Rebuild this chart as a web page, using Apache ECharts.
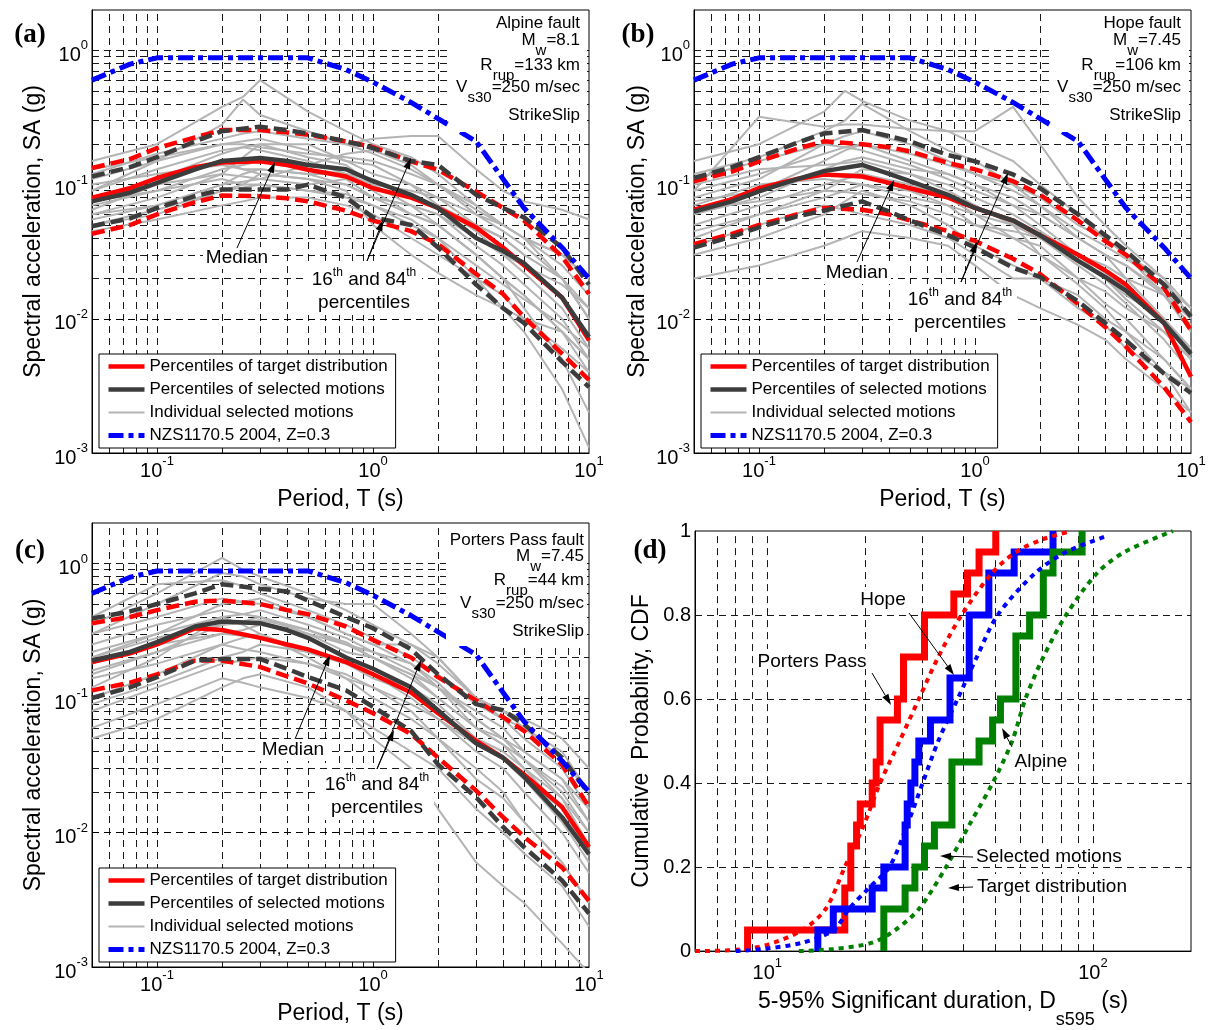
<!DOCTYPE html>
<html><head><meta charset="utf-8">
<script src="https://cdn.jsdelivr.net/npm/echarts@6.0.0/dist/echarts.min.js"></script>
<style>html,body{margin:0;padding:0;background:#fff}#c{width:1209px;height:1030px}</style>
</head><body><div id="c"></div>
<script>
// ---------------- DATA ----------------
const T_PCT = [0.05, 0.075, 0.1, 0.15, 0.2, 0.3, 0.4, 0.5, 0.75, 1, 1.5, 2, 3, 4, 5, 7.5, 10];
const T_IND = [0.05, 0.1, 0.2, 0.25, 0.3, 0.5, 0.75, 1, 1.5, 2, 3, 4, 5, 7.5, 10];
const T_NZS = [0.05, 0.075, 0.1, 0.2, 0.3, 0.5, 0.75, 1, 1.5, 2, 3, 4, 5, 7.5, 10];
const SA_NZS = [0.6, 0.79, 0.88, 0.88, 0.88, 0.88, 0.72, 0.58, 0.41, 0.31, 0.21, 0.11, 0.067, 0.034, 0.02];

// Panel (a) Alpine fault
const A_TGT_MED = [0.08, 0.094, 0.112, 0.135, 0.146, 0.149, 0.14, 0.129, 0.115, 0.094, 0.08, 0.067, 0.048, 0.034, 0.025, 0.0144, 0.0069];
const A_SEL_MED = [0.075, 0.087, 0.103, 0.13, 0.15, 0.158, 0.15, 0.14, 0.13, 0.106, 0.084, 0.067, 0.04, 0.032, 0.026, 0.0144, 0.0073];
const A_TGT_84 = [0.133, 0.155, 0.187, 0.225, 0.255, 0.255, 0.245, 0.235, 0.21, 0.19, 0.149, 0.129, 0.089, 0.067, 0.054, 0.029, 0.0153];
const A_SEL_84 = [0.115, 0.135, 0.16, 0.21, 0.25, 0.27, 0.255, 0.24, 0.21, 0.187, 0.15, 0.14, 0.084, 0.067, 0.057, 0.034, 0.018];
const A_TGT_16 = [0.043, 0.05, 0.06, 0.074, 0.083, 0.082, 0.079, 0.075, 0.064, 0.054, 0.045, 0.036, 0.0216, 0.0153, 0.0103, 0.0055, 0.0035];
const A_SEL_16 = [0.049, 0.056, 0.067, 0.082, 0.092, 0.092, 0.092, 0.1, 0.08, 0.057, 0.05, 0.034, 0.018, 0.012, 0.0093, 0.0048, 0.0031];
const A_IND = [
 [0.15, 0.2, 0.38, 0.45, 0.6, 0.35, 0.25, 0.2, 0.16, 0.12, 0.07, 0.05, 0.04, 0.02, 0.01],
 [0.09, 0.15, 0.28, 0.43, 0.33, 0.25, 0.2, 0.17, 0.13, 0.1, 0.06, 0.045, 0.035, 0.02, 0.01],
 [0.12, 0.17, 0.22, 0.24, 0.25, 0.22, 0.2, 0.22, 0.23, 0.23, 0.13, 0.09, 0.075, 0.065, 0.055],
 [0.06, 0.08, 0.12, 0.16, 0.2, 0.2, 0.15, 0.12, 0.1, 0.07, 0.05, 0.04, 0.03, 0.02, 0.012],
 [0.05, 0.06, 0.09, 0.1, 0.12, 0.11, 0.1, 0.08, 0.07, 0.05, 0.03, 0.02, 0.012, 0.005, 0.002],
 [0.07, 0.09, 0.11, 0.1, 0.1, 0.09, 0.08, 0.07, 0.05, 0.04, 0.02, 0.012, 0.008, 0.003, 0.0011],
 [0.08, 0.11, 0.17, 0.19, 0.2, 0.16, 0.14, 0.1, 0.09, 0.08, 0.05, 0.04, 0.03, 0.02, 0.01],
 [0.1, 0.12, 0.14, 0.13, 0.13, 0.12, 0.12, 0.1, 0.07, 0.06, 0.04, 0.03, 0.025, 0.018, 0.012],
 [0.045, 0.055, 0.07, 0.075, 0.08, 0.08, 0.07, 0.06, 0.04, 0.03, 0.02, 0.015, 0.01, 0.006, 0.004],
 [0.065, 0.1, 0.15, 0.13, 0.12, 0.11, 0.09, 0.05, 0.03, 0.022, 0.015, 0.012, 0.01, 0.008, 0.005],
 [0.11, 0.15, 0.2, 0.21, 0.22, 0.18, 0.15, 0.14, 0.1, 0.08, 0.06, 0.05, 0.04, 0.03, 0.02],
 [0.075, 0.09, 0.13, 0.14, 0.15, 0.13, 0.12, 0.11, 0.08, 0.07, 0.045, 0.03, 0.022, 0.012, 0.006],
 [0.055, 0.07, 0.1, 0.12, 0.13, 0.12, 0.1, 0.08, 0.07, 0.06, 0.035, 0.025, 0.018, 0.01, 0.005],
 [0.09, 0.13, 0.18, 0.19, 0.18, 0.15, 0.12, 0.09, 0.06, 0.05, 0.03, 0.02, 0.015, 0.008, 0.004],
 [0.06, 0.07, 0.1, 0.105, 0.11, 0.14, 0.17, 0.18, 0.14, 0.1, 0.07, 0.05, 0.04, 0.025, 0.015],
 [0.08, 0.1, 0.12, 0.115, 0.11, 0.1, 0.11, 0.08, 0.06, 0.05, 0.03, 0.02, 0.015, 0.008, 0.005],
 [0.05, 0.065, 0.09, 0.095, 0.1, 0.09, 0.085, 0.07, 0.055, 0.04, 0.025, 0.018, 0.014, 0.009, 0.006],
 [0.13, 0.16, 0.2, 0.2, 0.19, 0.17, 0.16, 0.15, 0.12, 0.1, 0.065, 0.05, 0.04, 0.03, 0.02]
];

// Panel (b) Hope fault
const B_TGT_MED = [0.065, 0.078, 0.094, 0.11, 0.119, 0.115, 0.103, 0.094, 0.08, 0.067, 0.054, 0.042, 0.03, 0.023, 0.018, 0.0093, 0.0037];
const B_SEL_MED = [0.063, 0.075, 0.089, 0.11, 0.126, 0.14, 0.12, 0.106, 0.084, 0.067, 0.054, 0.042, 0.027, 0.0205, 0.0162, 0.0093, 0.0055];
const B_TGT_84 = [0.106, 0.125, 0.149, 0.185, 0.21, 0.2, 0.19, 0.177, 0.145, 0.13, 0.106, 0.084, 0.054, 0.038, 0.03, 0.017, 0.0082];
const B_SEL_84 = [0.112, 0.135, 0.16, 0.205, 0.24, 0.255, 0.23, 0.21, 0.166, 0.149, 0.119, 0.094, 0.06, 0.042, 0.032, 0.018, 0.0104];
const B_TGT_16 = [0.036, 0.043, 0.05, 0.06, 0.067, 0.065, 0.06, 0.054, 0.045, 0.038, 0.028, 0.0216, 0.0129, 0.0087, 0.0062, 0.0031, 0.0017];
const B_SEL_16 = [0.034, 0.041, 0.048, 0.058, 0.064, 0.075, 0.063, 0.054, 0.042, 0.034, 0.024, 0.0205, 0.0135, 0.0093, 0.0069, 0.0039, 0.0028];
const B_IND = [
 [0.15, 0.2, 0.35, 0.5, 0.42, 0.3, 0.25, 0.2, 0.15, 0.1, 0.06, 0.04, 0.03, 0.015, 0.008],
 [0.09, 0.32, 0.27, 0.28, 0.28, 0.26, 0.25, 0.25, 0.38, 0.2, 0.08, 0.05, 0.035, 0.02, 0.01],
 [0.12, 0.16, 0.25, 0.3, 0.4, 0.25, 0.18, 0.15, 0.1, 0.07, 0.04, 0.03, 0.02, 0.01, 0.005],
 [0.06, 0.09, 0.15, 0.18, 0.2, 0.15, 0.12, 0.1, 0.07, 0.05, 0.03, 0.022, 0.017, 0.01, 0.006],
 [0.045, 0.06, 0.08, 0.09, 0.1, 0.09, 0.07, 0.05, 0.04, 0.03, 0.02, 0.013, 0.01, 0.005, 0.003],
 [0.02, 0.025, 0.035, 0.04, 0.045, 0.04, 0.035, 0.025, 0.015, 0.012, 0.009, 0.007, 0.005, 0.003, 0.002],
 [0.03, 0.04, 0.06, 0.075, 0.09, 0.07, 0.05, 0.035, 0.025, 0.02, 0.012, 0.009, 0.006, 0.004, 0.003],
 [0.08, 0.11, 0.2, 0.19, 0.18, 0.14, 0.11, 0.09, 0.07, 0.06, 0.04, 0.03, 0.025, 0.015, 0.009],
 [0.1, 0.13, 0.14, 0.145, 0.15, 0.12, 0.1, 0.08, 0.06, 0.045, 0.03, 0.025, 0.02, 0.015, 0.01],
 [0.05, 0.07, 0.1, 0.11, 0.12, 0.1, 0.08, 0.06, 0.05, 0.04, 0.025, 0.018, 0.013, 0.007, 0.004],
 [0.07, 0.1, 0.11, 0.105, 0.1, 0.08, 0.07, 0.06, 0.04, 0.035, 0.02, 0.016, 0.012, 0.008, 0.005],
 [0.035, 0.05, 0.07, 0.065, 0.06, 0.05, 0.04, 0.03, 0.02, 0.02, 0.015, 0.01, 0.008, 0.005, 0.003],
 [0.06, 0.08, 0.13, 0.15, 0.16, 0.13, 0.12, 0.1, 0.08, 0.06, 0.04, 0.03, 0.025, 0.016, 0.01],
 [0.11, 0.15, 0.2, 0.23, 0.25, 0.2, 0.15, 0.12, 0.1, 0.08, 0.05, 0.04, 0.03, 0.02, 0.012],
 [0.075, 0.09, 0.12, 0.12, 0.12, 0.09, 0.08, 0.07, 0.05, 0.04, 0.03, 0.02, 0.015, 0.01, 0.006],
 [0.04, 0.06, 0.09, 0.11, 0.13, 0.12, 0.09, 0.07, 0.05, 0.03, 0.018, 0.012, 0.008, 0.004, 0.002],
 [0.065, 0.075, 0.09, 0.088, 0.085, 0.075, 0.06, 0.05, 0.045, 0.04, 0.028, 0.02, 0.014, 0.008, 0.005],
 [0.09, 0.12, 0.17, 0.19, 0.2, 0.17, 0.14, 0.12, 0.09, 0.07, 0.045, 0.035, 0.028, 0.018, 0.012]
];

// Panel (c) Porters Pass fault
const C_TGT_MED = [0.185, 0.215, 0.25, 0.33, 0.32, 0.28, 0.25, 0.23, 0.185, 0.15, 0.11, 0.077, 0.048, 0.036, 0.027, 0.0155, 0.0078];
const C_SEL_MED = [0.19, 0.22, 0.26, 0.34, 0.37, 0.36, 0.32, 0.28, 0.2, 0.165, 0.12, 0.081, 0.046, 0.036, 0.026, 0.013, 0.0069];
const C_TGT_84 = [0.36, 0.4, 0.45, 0.52, 0.53, 0.5, 0.45, 0.42, 0.34, 0.27, 0.2, 0.143, 0.096, 0.072, 0.057, 0.032, 0.0155];
const C_SEL_84 = [0.39, 0.44, 0.5, 0.6, 0.7, 0.65, 0.62, 0.53, 0.4, 0.33, 0.23, 0.15, 0.09, 0.081, 0.064, 0.036, 0.0194];
const C_TGT_16 = [0.114, 0.13, 0.15, 0.19, 0.19, 0.17, 0.145, 0.128, 0.096, 0.077, 0.054, 0.036, 0.0205, 0.013, 0.0093, 0.0055, 0.0031];
const C_SEL_16 = [0.1, 0.12, 0.143, 0.19, 0.195, 0.195, 0.165, 0.143, 0.114, 0.086, 0.057, 0.032, 0.0183, 0.011, 0.0078, 0.0044, 0.0025];
const C_IND = [
 [0.35, 0.6, 1.1, 0.9, 0.8, 0.6, 0.45, 0.35, 0.25, 0.18, 0.1, 0.07, 0.05, 0.03, 0.015],
 [0.3, 0.5, 0.85, 0.8, 0.7, 0.55, 0.5, 0.5, 0.3, 0.2, 0.1, 0.08, 0.06, 0.04, 0.02],
 [0.4, 0.7, 0.75, 0.68, 0.6, 0.45, 0.35, 0.28, 0.2, 0.15, 0.09, 0.07, 0.06, 0.035, 0.02],
 [0.2, 0.3, 0.5, 0.52, 0.55, 0.4, 0.3, 0.25, 0.25, 0.2, 0.1, 0.08, 0.07, 0.05, 0.03],
 [0.15, 0.22, 0.35, 0.37, 0.4, 0.3, 0.22, 0.2, 0.15, 0.1, 0.06, 0.05, 0.04, 0.025, 0.015],
 [0.05, 0.07, 0.12, 0.14, 0.15, 0.12, 0.08, 0.05, 0.03, 0.015, 0.006, 0.004, 0.003, 0.0015, 0.0009],
 [0.06, 0.09, 0.14, 0.13, 0.12, 0.1, 0.08, 0.06, 0.04, 0.03, 0.015, 0.01, 0.007, 0.004, 0.002],
 [0.1, 0.15, 0.25, 0.28, 0.3, 0.2, 0.14, 0.12, 0.08, 0.05, 0.025, 0.018, 0.012, 0.006, 0.003],
 [0.25, 0.35, 0.45, 0.42, 0.4, 0.32, 0.25, 0.2, 0.15, 0.12, 0.08, 0.06, 0.04, 0.025, 0.012],
 [0.18, 0.25, 0.3, 0.32, 0.35, 0.3, 0.25, 0.22, 0.18, 0.12, 0.07, 0.05, 0.035, 0.018, 0.008],
 [0.12, 0.2, 0.4, 0.35, 0.3, 0.22, 0.18, 0.15, 0.1, 0.07, 0.04, 0.03, 0.02, 0.01, 0.005],
 [0.22, 0.3, 0.4, 0.42, 0.45, 0.35, 0.28, 0.22, 0.16, 0.12, 0.06, 0.045, 0.03, 0.015, 0.007],
 [0.08, 0.12, 0.18, 0.19, 0.2, 0.18, 0.15, 0.12, 0.09, 0.07, 0.045, 0.035, 0.025, 0.015, 0.008],
 [0.3, 0.4, 0.55, 0.52, 0.5, 0.4, 0.3, 0.25, 0.18, 0.13, 0.07, 0.05, 0.035, 0.02, 0.01],
 [0.16, 0.22, 0.3, 0.29, 0.28, 0.22, 0.18, 0.15, 0.12, 0.09, 0.05, 0.04, 0.03, 0.018, 0.01],
 [0.14, 0.18, 0.25, 0.23, 0.22, 0.18, 0.14, 0.1, 0.07, 0.05, 0.03, 0.02, 0.012, 0.006, 0.003],
 [0.2, 0.28, 0.35, 0.36, 0.38, 0.32, 0.26, 0.2, 0.14, 0.1, 0.06, 0.045, 0.035, 0.022, 0.012],
 [0.09, 0.13, 0.2, 0.22, 0.25, 0.22, 0.18, 0.14, 0.11, 0.08, 0.05, 0.035, 0.025, 0.012, 0.006]
];

// Panel (d) significant durations (s) of the 20 selected motions, sorted
const D_PORTERS = [8.7, 17.3, 17.3, 18.05, 18.05, 18.8, 19.3, 21.0, 21.6, 22.2, 22.2, 25.1, 26.2, 26.2, 30.4, 30.4, 37.4, 41.2, 44.7, 50.3];
const D_HOPE = [14.3, 15.95, 21.0, 22.8, 26.5, 26.5, 26.9, 27.6, 28.4, 29.2, 31.7, 36.4, 36.4, 41.7, 41.7, 41.7, 47.9, 47.9, 57.3, 75.4];
const D_ALPINE = [22.8, 22.8, 26.5, 28.4, 30.4, 32.6, 36.9, 36.9, 36.9, 44.7, 49.2, 52, 58, 58, 58, 63.9, 70.4, 70.4, 75.4, 92.6];
// target distributions (read points of the dotted CDFs)
const TGT_PORTERS_D = [6, 8, 10, 12.8, 15.1, 17.3, 19.8, 22.2, 25.5, 29.2, 33.5, 39.5, 49, 58, 70, 86];
const TGT_PORTERS_P = [0, 0.003, 0.015, 0.05, 0.1, 0.2, 0.3, 0.4, 0.5, 0.6, 0.7, 0.8, 0.9, 0.95, 0.98, 1.0];
const TGT_HOPE_D = [8, 9.7, 12.8, 16, 17.8, 20.5, 23.7, 26.9, 30, 33.5, 38.4, 44, 51, 66.5, 82.7, 112];
const TGT_HOPE_P = [0, 0.005, 0.02, 0.05, 0.1, 0.15, 0.2, 0.3, 0.4, 0.5, 0.6, 0.7, 0.8, 0.9, 0.95, 0.99];
const TGT_ALPINE_D = [12.5, 16, 21, 24.7, 29.2, 35.4, 41.7, 49.2, 56.5, 62, 70.4, 82.7, 103, 125, 176];
const TGT_ALPINE_P = [0, 0.005, 0.02, 0.05, 0.1, 0.2, 0.3, 0.4, 0.5, 0.6, 0.7, 0.8, 0.9, 0.95, 1.0];

// grid-line positions
const GRID_T = [0.06,0.07,0.08,0.09,0.1,0.2,0.3,0.4,0.5,0.6,0.7,0.8,0.9,1,2,3,4,5,6,7,8,9];
const GRID_SA = [0.002,0.003,0.004,0.005,0.006,0.007,0.008,0.009,0.01,0.02,0.03,0.04,0.05,0.06,0.07,0.08,0.09,0.1,0.2,0.3,0.4,0.5,0.6,0.7,0.8,0.9,1];
const GRID_D = [7,8,9,10,20,30,40,50,60,70,80,90,100];
const GRID_P = [0.2,0.4,0.6,0.8];

const LEG_NAMES = ['Percentiles of target distribution','Percentiles of selected motions','Individual selected motions','NZS1170.5 2004, Z=0.3'];

// ---------------- BUILD ----------------
const FONT = '"Liberation Sans", Arial, sans-serif';
const RED = '#ff0000', DARK = '#3c3c3c', GRAY = '#b4b4b4', BLUE = '#0000ff', GREEN = '#008000';
const zip = (xs, ys) => xs.map((x, i) => [x, ys[i]]);

function powLabel(v) {
  const l = Math.log10(v), e = Math.round(l);
  if (Math.abs(l - e) > 1e-6) return '';
  return '{b|10}{s|' + e + '}';
}
const powRich = {
  b: {fontSize: 20, fontFamily: FONT, color: '#000', lineHeight: 22, padding: [6, 0, 6, 0], verticalAlign: 'top'},
  s: {fontSize: 13, fontFamily: FONT, color: '#000', lineHeight: 14, verticalAlign: 'top'}
};
const nameStyle = {fontSize: 23, fontFamily: FONT, color: '#000'};

const grids = [
  {left: 92, top: 10, width: 497, height: 443},
  {left: 694, top: 10, width: 497, height: 443},
  {left: 92, top: 523, width: 497, height: 444},
  {left: 695, top: 531, width: 496, height: 432}
].map(g => Object.assign({show: true, borderColor: '#000', borderWidth: 1, backgroundColor: 'transparent', containLabel: false}, g));

const xAxes = [], yAxes = [], series = [];
const yNameGaps = [47, 45, 47];
const xNameGaps = [30, 30, 32];
for (let i = 0; i < 3; i++) {
  xAxes.push({type: 'log', logBase: 10, gridIndex: i, min: 0.05, max: 10,
    axisLine: {show: true, lineStyle: {color: '#000', width: 1}}, axisTick: {show: false}, splitLine: {show: false},
    axisLabel: {formatter: powLabel, rich: powRich, margin: 2},
    name: 'Period, T (s)', nameLocation: 'middle', nameGap: xNameGaps[i], nameTextStyle: nameStyle});
  yAxes.push({type: 'log', logBase: 10, gridIndex: i, min: 0.001, max: 2,
    axisLine: {show: true, lineStyle: {color: '#000', width: 1}}, axisTick: {show: false}, splitLine: {show: false},
    axisLabel: {formatter: powLabel, rich: powRich, margin: 4},
    name: 'Spectral acceleration, SA (g)', nameLocation: 'middle', nameGap: yNameGaps[i], nameTextStyle: nameStyle});
}
xAxes.push({type: 'log', logBase: 10, gridIndex: 3, min: 6, max: 200,
  axisLine: {show: true, lineStyle: {color: '#000', width: 1}}, axisTick: {show: false}, splitLine: {show: false},
  axisLabel: {formatter: powLabel, rich: powRich, margin: 6},
  name: '{n|5-95% Significant duration, D}{sub|s595}{n| (s)}', nameLocation: 'middle', nameGap: 34,
  nameTextStyle: {fontSize: 23, fontFamily: FONT, color: '#000', rich: {
    n: {fontSize: 23, fontFamily: FONT, color: '#000', lineHeight: 26, verticalAlign: 'top'},
    sub: {fontSize: 18, fontFamily: FONT, color: '#000', lineHeight: 18, padding: [21, 0, 0, 0], verticalAlign: 'top'}}}});
yAxes.push({type: 'value', gridIndex: 3, min: 0, max: 1, interval: 0.2,
  axisLine: {show: true, lineStyle: {color: '#000', width: 1}}, axisTick: {show: false}, splitLine: {show: false},
  axisLabel: {fontSize: 20, fontFamily: FONT, color: '#000', margin: 4,
    formatter: v => (v === 0 ? '0' : (Math.abs(v - 1) < 1e-9 ? '1' : v.toFixed(1)))},
  name: 'Cumulative  Probability, CDF', nameLocation: 'middle', nameGap: 42, nameTextStyle: nameStyle});

function gridLines(idx, xs, ys, dummy) {
  return {type: 'line', xAxisIndex: idx, yAxisIndex: idx, data: [dummy], symbol: 'none', silent: true,
    lineStyle: {opacity: 0}, z: 1, animation: false,
    markLine: {silent: true, symbol: ['none', 'none'], animation: false, label: {show: false},
      emphasis: {disabled: true},
      lineStyle: {color: '#000', width: 1, type: [7, 5], opacity: 0.9},
      data: xs.map(v => ({xAxis: v})).concat(ys.map(v => ({yAxis: v})))}};
}
function line(idx, name, xs, ys, lineStyle, z, extra) {
  return Object.assign({type: 'line', name, xAxisIndex: idx, yAxisIndex: idx, data: zip(xs, ys),
    symbol: 'none', showSymbol: false, silent: true, animation: false, z,
    itemStyle: {color: lineStyle.color},
    emphasis: {disabled: true}, lineStyle}, extra || {});
}

const panels = [
  {ind: A_IND, tm: A_TGT_MED, sm: A_SEL_MED, t84: A_TGT_84, s84: A_SEL_84, t16: A_TGT_16, s16: A_SEL_16},
  {ind: B_IND, tm: B_TGT_MED, sm: B_SEL_MED, t84: B_TGT_84, s84: B_SEL_84, t16: B_TGT_16, s16: B_SEL_16},
  {ind: C_IND, tm: C_TGT_MED, sm: C_SEL_MED, t84: C_TGT_84, s84: C_SEL_84, t16: C_TGT_16, s16: C_SEL_16}
];
panels.forEach((p, i) => {
  series.push(gridLines(i, GRID_T, GRID_SA, [1, 1]));
  p.ind.forEach(v => series.push(line(i, LEG_NAMES[2], T_IND, v, {color: GRAY, width: 2}, 10)));
  series.push(line(i, LEG_NAMES[0], T_PCT, p.tm, {color: RED, width: 4.5}, 11));
  series.push(line(i, 'tgt84', T_PCT, p.t84, {color: RED, width: 4.5, type: [13, 6]}, 11));
  series.push(line(i, 'tgt16', T_PCT, p.t16, {color: RED, width: 4.5, type: [13, 6]}, 11));
  series.push(line(i, LEG_NAMES[1], T_PCT, p.sm, {color: DARK, width: 4.5}, 12));
  series.push(line(i, 'sel84', T_PCT, p.s84, {color: DARK, width: 4.5, type: [13, 6]}, 12));
  series.push(line(i, 'sel16', T_PCT, p.s16, {color: DARK, width: 4.5, type: [13, 6]}, 12));
  series.push(line(i, LEG_NAMES[3], T_NZS, SA_NZS, {color: BLUE, width: 5, type: [15, 5, 5, 5]}, 13));
});

// panel d
series.push(gridLines(3, GRID_D, GRID_P, [10, 0.5]));
function ecdf(durs) { return [[durs[0], 0]].concat(durs.map((d, k) => [d, (k + 1) / durs.length])); }
[[D_PORTERS, RED], [D_HOPE, BLUE], [D_ALPINE, GREEN]].forEach(([d, c]) => {
  series.push({type: 'line', xAxisIndex: 3, yAxisIndex: 3, data: ecdf(d), step: 'end', symbol: 'none',
    silent: true, animation: false, z: 10, itemStyle: {color: c}, lineStyle: {color: c, width: 7, join: 'miter'}});
});
[[TGT_PORTERS_D, TGT_PORTERS_P, RED], [TGT_HOPE_D, TGT_HOPE_P, BLUE], [TGT_ALPINE_D, TGT_ALPINE_P, GREEN]].forEach(([d, pp, c]) => {
  series.push(line(3, 'target', d, pp, {color: c, width: 4, type: [5, 5]}, 11, {smooth: 0.3}));
});

// legends
const legendBase = {orient: 'vertical', data: LEG_NAMES, itemWidth: 36, itemHeight: 14, itemGap: 6,
  padding: [4, 8, 4, 7], borderColor: '#000', borderWidth: 1, backgroundColor: '#fff', z: 20,
  selectedMode: false, textStyle: {fontSize: 17, fontFamily: FONT, color: '#000', lineHeight: 17},
  itemStyle: {opacity: 0, borderWidth: 0},
  lineStyle: {width: 'inherit'}};
const legends = [
  Object.assign({left: 99, top: 354}, legendBase),
  Object.assign({left: 701, top: 354}, legendBase),
  Object.assign({left: 99, top: 868}, legendBase)
];

// annotations
const G = [];
function rect(x, y, w, h) { G.push({type: 'rect', z: 90, silent: true, shape: {x, y, width: w, height: h}, style: {fill: '#fff'}}); }
function text(x, y, t, rich, align, va, extra) {
  G.push({type: 'text', z: 100, silent: true, x, y, style: Object.assign({text: t, rich, align: align || 'center', verticalAlign: va || 'top'}, extra || {})});
}
function arrow(x1, y1, x2, y2) {
  const a = Math.atan2(y2 - y1, x2 - x1), L = 11, W = 3.5;
  const bx = x2 - L * Math.cos(a), by = y2 - L * Math.sin(a);
  const px = -Math.sin(a) * W, py = Math.cos(a) * W;
  G.push({type: 'line', z: 100, silent: true, shape: {x1, y1, x2: bx, y2: by}, style: {stroke: '#000', lineWidth: 1}});
  G.push({type: 'polygon', z: 100, silent: true, shape: {points: [[x2, y2], [bx + px, by + py], [bx - px, by - py]]}, style: {fill: '#000'}});
}
const R_INFO = {
  n: {fontSize: 17, fontFamily: FONT, fill: '#000', lineHeight: 20, verticalAlign: 'top'},
  sub: {fontSize: 15, fontFamily: FONT, fill: '#000', lineHeight: 14, padding: [11, 0, 0, 0], verticalAlign: 'top'}
};
const R_ANN = {
  n: {fontSize: 19, fontFamily: FONT, fill: '#000', lineHeight: 20, padding: [3, 0, 0, 0], verticalAlign: 'top'},
  sup: {fontSize: 12, fontFamily: FONT, fill: '#000', lineHeight: 12, verticalAlign: 'top'}
};
const R_LET = {L: {fontSize: 27, fontWeight: 'bold', fontFamily: '"Liberation Serif", "Times New Roman", serif', fill: '#000', lineHeight: 30}};

function info(xr, ys, rows) {
  rows.forEach((r, k) => text(xr, ys[k] - 10, r, R_INFO, 'right', 'top'));
}
// panel a
rect(450, 12, 137, 120);
info(580, [25, 42, 67, 89, 117], ['{n|Alpine fault}', '{n|M}{sub|w}{n|=8.1}', '{n|R}{sub|rup}{n|=133 km}', '{n|V}{sub|s30}{n|=250 m/sec}', '{n|StrikeSlip}']);
rect(203, 247, 66, 22); text(237, 258 - 13, '{n|Median}', R_ANN);
rect(308, 264, 114, 51); text(364, 280 - 13, '{n|16}{sup|th}{n| and 84}{sup|th}', R_ANN); text(364, 303 - 13, '{n|percentiles}', R_ANN);
arrow(237, 248, 275, 162); arrow(367, 261, 411, 158); arrow(367, 261, 383, 220);
// panel b
rect(1051, 12, 138, 120);
info(1181, [25, 42, 67, 89, 117], ['{n|Hope fault}', '{n|M}{sub|w}{n|=7.45}', '{n|R}{sub|rup}{n|=106 km}', '{n|V}{sub|s30}{n|=250 m/sec}', '{n|StrikeSlip}']);
rect(823, 262, 68, 22); text(857, 273 - 13, '{n|Median}', R_ANN);
rect(903, 284, 114, 51); text(960, 300 - 13, '{n|16}{sup|th}{n| and 84}{sup|th}', R_ANN); text(960, 323 - 13, '{n|percentiles}', R_ANN);
arrow(857, 262, 894, 180); arrow(961, 282, 1008, 173); arrow(961, 282, 977, 242);
// panel c
rect(446, 526, 141, 120);
info(584, [542, 558, 582, 605, 633], ['{n|Porters Pass fault}', '{n|M}{sub|w}{n|=7.45}', '{n|R}{sub|rup}{n|=44 km}', '{n|V}{sub|s30}{n|=250 m/sec}', '{n|StrikeSlip}']);
rect(259, 739, 68, 22); text(293, 750 - 13, '{n|Median}', R_ANN);
rect(320, 769, 114, 51); text(377, 785 - 13, '{n|16}{sup|th}{n| and 84}{sup|th}', R_ANN); text(377, 808 - 13, '{n|percentiles}', R_ANN);
arrow(295, 739, 330, 655); arrow(377, 769, 421, 660); arrow(377, 769, 394, 730);
// panel d
const bgW = {backgroundColor: '#fff', padding: [0, 1, 0, 1]};
text(883, 600 - 13, '{n|Hope}', R_ANN, 'center', 'top', bgW);
text(812, 662 - 13, '{n|Porters Pass}', R_ANN, 'center', 'top', bgW);
text(1041, 762 - 13, '{n|Alpine}', R_ANN, 'center', 'top', bgW);
text(975, 857 - 13, '{n|Selected motions}', R_ANN, 'left', 'top', bgW);
text(976, 887 - 13, '{n|Target distribution}', R_ANN, 'left', 'top', bgW);
arrow(909, 613, 954, 675); arrow(872, 673, 891, 705); arrow(1012, 747, 1002, 728);
arrow(973, 857, 940, 856); arrow(973, 887, 948, 888);
// panel letters
text(30, 35, '{L|(a)}', R_LET, 'center', 'middle');
text(638, 35, '{L|(b)}', R_LET, 'center', 'middle');
text(30, 551, '{L|(c)}', R_LET, 'center', 'middle');
text(650, 551, '{L|(d)}', R_LET, 'center', 'middle');

const chart = echarts.init(document.getElementById('c'), null, {renderer: 'canvas'});
chart.setOption({
  animation: false,
  backgroundColor: '#fff',
  grid: grids, xAxis: xAxes, yAxis: yAxes,
  legend: legends,
  series,
  graphic: {elements: G}
});
</script></body></html>
